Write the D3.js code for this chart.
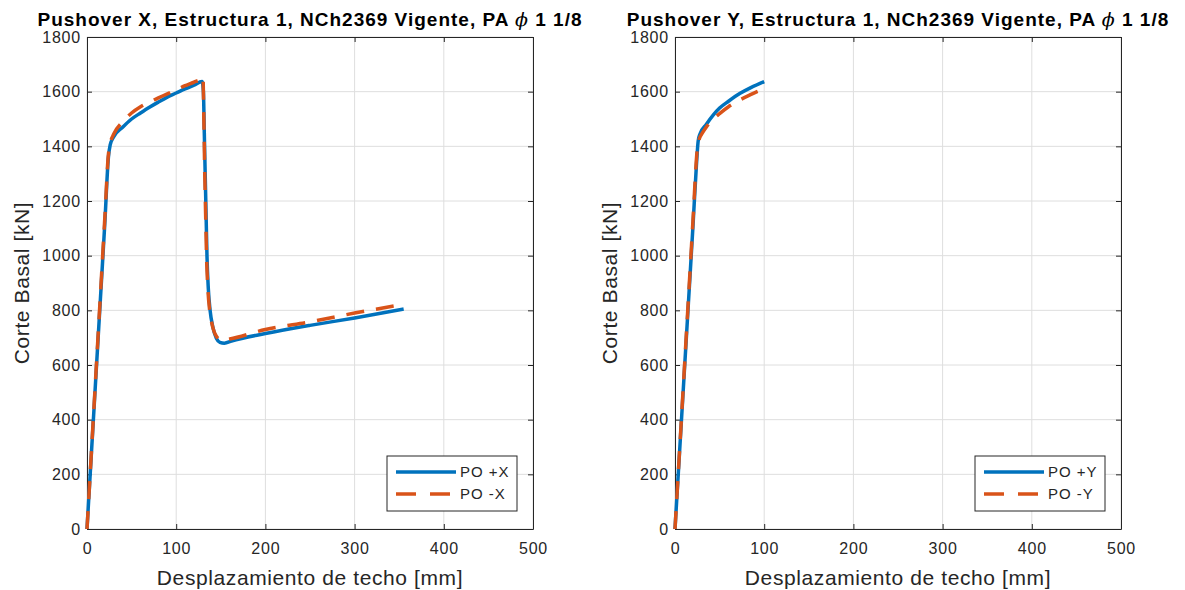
<!DOCTYPE html>
<html>
<head>
<meta charset="utf-8">
<script src="https://cdn.jsdelivr.net/npm/d3@7"></script>
<style>
  body { margin: 0; background: #fff; }
  text { font-family: "Liberation Sans", Arial, sans-serif; }
</style>
</head>
<body>
<script>
// ---- data ----
var xTicks = [0, 100, 200, 300, 400, 500];
var yTicks = [0, 200, 400, 600, 800, 1000, 1200, 1400, 1600, 1800];

var dispPosX = [0, 5, 10, 15, 20, 24, 26, 30, 40, 50, 60, 70, 80, 90, 100, 110, 120, 129, 130.5, 131.5, 132.5, 133.5, 134.5, 136, 138, 141, 145, 149, 154, 162, 200, 250, 300, 355];
var shearPosX = [0, 280, 560, 840, 1120, 1360, 1405, 1435, 1470, 1500, 1522, 1543, 1562, 1580, 1595, 1610, 1624, 1637, 1600, 1450, 1300, 1150, 1000, 880, 800, 740, 698, 683, 680, 688, 715, 745, 772, 805];

var dispNegX = [0, 5, 10, 15, 20, 24, 26, 30, 40, 50, 60, 70, 80, 90, 100, 110, 120, 129, 130, 131, 132, 133, 134, 135.5, 137.5, 140.5, 145, 151, 160, 200, 250, 300, 355];
var shearNegX = [0, 285, 570, 855, 1140, 1370, 1410, 1445, 1490, 1522, 1545, 1562, 1577, 1592, 1607, 1622, 1635, 1650, 1655, 1500, 1300, 1150, 1000, 880, 800, 745, 705, 690, 695, 730, 758, 790, 822];

var dispPosY = [0, 5, 10, 15, 20, 24, 26, 28, 35, 43, 50, 60, 73, 85, 100];
var shearPosY = [0, 275, 550, 825, 1100, 1330, 1420, 1445, 1480, 1515, 1540, 1565, 1594, 1615, 1637];

var dispNegY = [0, 5, 10, 15, 20, 25, 27, 30, 35, 43, 50, 60, 70, 84, 92, 101];
var shearNegY = [0, 280, 560, 840, 1120, 1390, 1425, 1445, 1470, 1500, 1520, 1545, 1565, 1588, 1600, 1612];

var blue = '#0072BD', orange = '#D95319', axisGray = '#262626', gridGray = '#dedede';

function zip(xs, ys) {
    return xs.map(function(x, i) { return [x, ys[i]]; });
}

var svg = d3.select('body').append('svg').attr('width', 1185).attr('height', 590);

function drawPanel(opts) {
    var left = opts.left, right = opts.left + 446, top = 37, bottom = 529;
    var x = d3.scaleLinear().domain([0, 500]).range([left, right]);
    var y = d3.scaleLinear().domain([0, 1800]).range([bottom, top]);
    var g = svg.append('g');

    // grid
    g.selectAll('line.gx').data(xTicks).enter().append('line')
        .attr('x1', function(d) { return x(d); }).attr('x2', function(d) { return x(d); })
        .attr('y1', top).attr('y2', bottom)
        .attr('stroke', gridGray).attr('stroke-width', 1);
    g.selectAll('line.gy').data(yTicks).enter().append('line')
        .attr('y1', function(d) { return y(d); }).attr('y2', function(d) { return y(d); })
        .attr('x1', left).attr('x2', right)
        .attr('stroke', gridGray).attr('stroke-width', 1);

    // axes (ticks inward, mirrored on top/right)
    var fmt = d3.format('d');
    var ax = [
        g.append('g').attr('transform', 'translate(0,' + bottom + ')').call(d3.axisBottom(x).tickValues(xTicks).tickFormat(fmt).tickSizeInner(-5).tickSizeOuter(0).tickPadding(14)),
        g.append('g').attr('transform', 'translate(0,' + top + ')').call(d3.axisTop(x).tickValues(xTicks).tickSizeInner(-5).tickSizeOuter(0).tickFormat('')),
        g.append('g').attr('transform', 'translate(' + left + ',0)').call(d3.axisLeft(y).tickValues(yTicks).tickFormat(fmt).tickSizeInner(-5).tickSizeOuter(0).tickPadding(6)),
        g.append('g').attr('transform', 'translate(' + right + ',0)').call(d3.axisRight(y).tickValues(yTicks).tickSizeInner(-5).tickSizeOuter(0).tickFormat(''))
    ];
    ax.forEach(function(a) {
        a.select('.domain').attr('stroke', axisGray);
        a.selectAll('.tick line').attr('stroke', axisGray);
        a.selectAll('.tick text').attr('fill', axisGray).style('font-size', '16px').style('letter-spacing', '0.8px')
            .style('font-family', '"Liberation Sans", Arial, sans-serif');
    });

    // curves
    var line = d3.line().x(function(d) { return x(d[0]); }).y(function(d) { return y(d[1]); }).curve(d3.curveMonotoneX);
    g.append('path').datum(opts.pos).attr('d', line)
        .attr('fill', 'none').attr('stroke', blue).attr('stroke-width', 3.5).attr('stroke-linejoin', 'round');
    g.append('path').datum(opts.neg).attr('d', line)
        .attr('fill', 'none').attr('stroke', orange).attr('stroke-width', 3.5).attr('stroke-dasharray', '18,12');

    // title and labels
    var title = g.append('text').attr('x', (left + right) / 2).attr('y', 26).attr('text-anchor', 'middle')
        .style('font-size', '19px').style('font-weight', 'bold').style('letter-spacing', '1px').attr('fill', '#000');
    title.append('tspan').text(opts.title + ' ');
    title.append('tspan').style('font-family', '"DejaVu Serif", serif').style('font-style', 'italic').style('font-weight', 'normal').text('\u03D5');
    title.append('tspan').text(' 1 1/8');

    g.append('text').attr('x', (left + right) / 2).attr('y', 585).attr('text-anchor', 'middle')
        .style('font-size', '21px').style('letter-spacing', '0.6px').attr('fill', axisGray).text('Desplazamiento de techo [mm]');
    g.append('text').attr('transform', 'translate(' + (left - 58) + ',' + ((top + bottom) / 2) + ') rotate(-90)')
        .attr('text-anchor', 'middle').style('font-size', '21px').style('letter-spacing', '0.6px').attr('fill', axisGray).text('Corte Basal [kN]');

    // legend
    var lx = right - 146, ly = 456;
    g.append('rect').attr('x', lx).attr('y', ly).attr('width', 130).attr('height', 55)
        .attr('fill', '#fff').attr('stroke', axisGray).attr('stroke-width', 1);
    g.append('line').attr('x1', lx + 9).attr('x2', lx + 69).attr('y1', ly + 16).attr('y2', ly + 16)
        .attr('stroke', blue).attr('stroke-width', 3.5);
    g.append('line').attr('x1', lx + 9).attr('x2', lx + 69).attr('y1', ly + 38).attr('y2', ly + 38)
        .attr('stroke', orange).attr('stroke-width', 3.5).attr('stroke-dasharray', '20,14');
    g.append('text').attr('x', lx + 73).attr('y', ly + 21).style('font-size', '15px').style('letter-spacing', '1px').attr('fill', axisGray).text(opts.names[0]);
    g.append('text').attr('x', lx + 73).attr('y', ly + 43).style('font-size', '15px').style('letter-spacing', '1px').attr('fill', axisGray).text(opts.names[1]);
}

drawPanel({ left: 87, title: 'Pushover X, Estructura 1, NCh2369 Vigente, PA', names: ['PO +X', 'PO -X'],
    pos: zip(dispPosX, shearPosX), neg: zip(dispNegX, shearNegX) });
drawPanel({ left: 675, title: 'Pushover Y, Estructura 1, NCh2369 Vigente, PA', names: ['PO +Y', 'PO -Y'],
    pos: zip(dispPosY, shearPosY), neg: zip(dispNegY, shearNegY) });
</script>
</body>
</html>
